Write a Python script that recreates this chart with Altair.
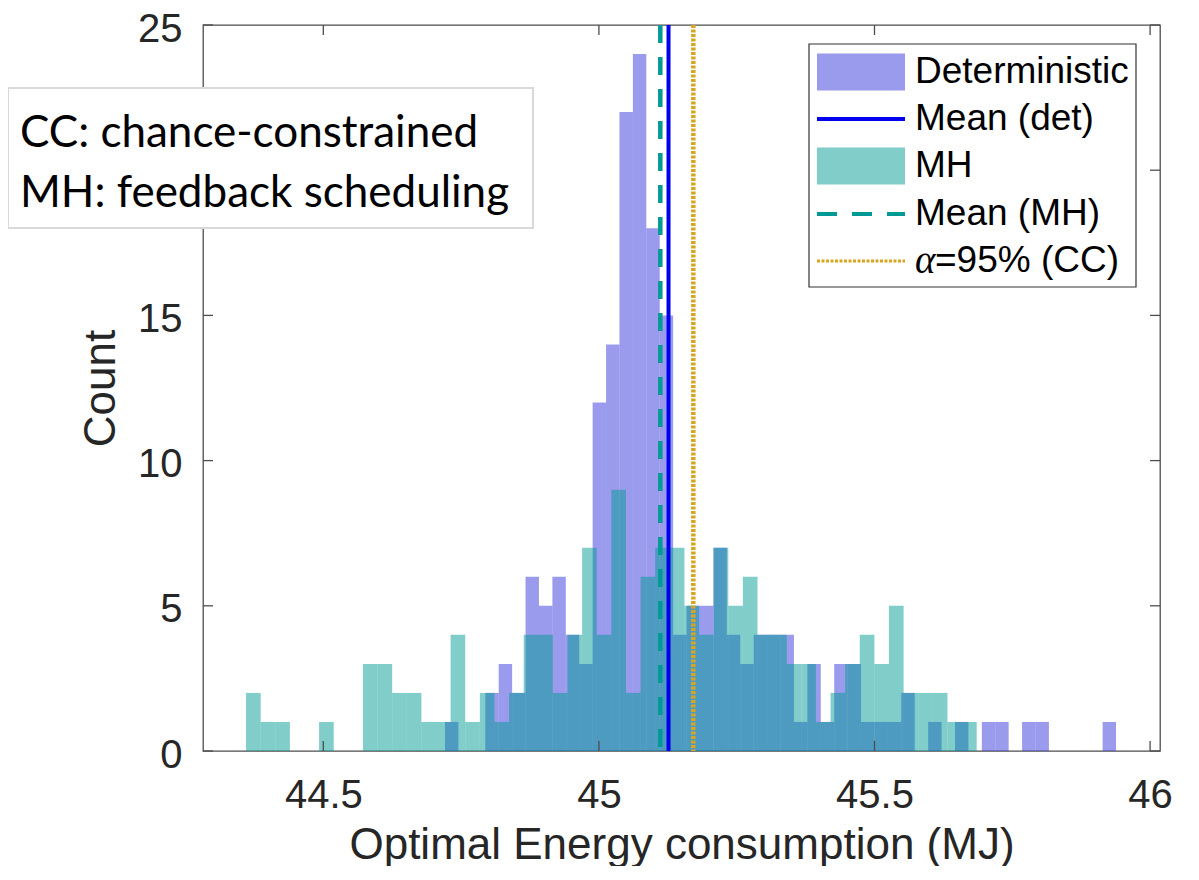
import altair as alt
import numpy as np
import pandas as pd

# ---------------- data ----------------
det_counts = [1, 0, 0, 2, 3, 2, 6, 5, 6, 4,
              3, 12, 14, 22, 24, 18, 15, 4, 5, 5,
              7, 4, 3, 4, 4, 4, 1, 3, 1, 3,
              3, 1, 1, 1, 2, 0, 1, 0, 1, 0,
              1, 1, 0, 1, 1, 0, 0, 0, 0, 1]
mh_counts = [2, 1, 1, 0, 0, 1, 0, 0, 3, 3,
             2, 2, 1, 1, 4, 1, 2, 1, 2, 4,
             4, 2, 4, 7, 4, 9, 2, 6, 7, 7,
             5, 4, 7, 5, 6, 4, 4, 3, 3, 1,
             2, 3, 4, 3, 5, 2, 2, 2, 1, 1]
det_range = [44.7208, 45.9382]   # first / last bin edge (50 bins)
mh_range = [44.3598, 45.6854]
det_mean = 45.1263
mh_mean = 45.1114
cc_alpha95 = 45.1713
x_ticks = [44.5, 45, 45.5, 46]
y_ticks = [0, 5, 10, 15, 20, 25]
x_domain = [44.2817, 46.018]
y_domain = [0, 25]
series_names = ["Deterministic", "MH"]
legend_labels = ["Deterministic", "Mean (det)", "MH", "Mean (MH)", "=95% (CC)"]
note_lines = ["CC: chance-constrained", "MH: feedback scheduling"]

# ---------------- styles ----------------
W, H = 957, 726
TOP = 17
OFF = 8 + TOP          # page y of the plot's top edge
DET_C = "#3737dd"
MH_C = "#019b95"
BLUE = "#0000ee"
TEAL = "#009a96"
GOLD = "#d9a521"
FRAME = "#4d4d4d"
AX_FONT = "Liberation Sans"


def hist_df(counts, rng, name):
    edges = np.linspace(rng[0], rng[1], len(counts) + 1)
    d = pd.DataFrame({"x0": edges[:-1], "x1": edges[1:], "count": counts, "series": name})
    return d[d["count"] > 0]


bars_df = pd.concat([hist_df(det_counts, det_range, series_names[0]),
                     hist_df(mh_counts, mh_range, series_names[1])], ignore_index=True)

xscale = alt.Scale(domain=x_domain, nice=False, zero=False)
yscale = alt.Scale(domain=y_domain, nice=False)

bars = alt.Chart(bars_df).mark_rect(opacity=0.5).encode(
    x=alt.X("x0:Q", scale=xscale,
            axis=alt.Axis(values=x_ticks, format="~g", title="Optimal Energy consumption (MJ)",
                          labelPadding=24, titlePadding=8, labelFlush=False)),
    x2="x1:Q",
    y=alt.Y("count:Q", scale=yscale,
            axis=alt.Axis(values=y_ticks, title="Count", labelPadding=21, titlePadding=14,
                          labelOffset=4,
                          # the "20" label sits under the annotation box in the reference
                          labelExpr="datum.value == 20 ? '' : datum.label")),
    y2=alt.datum(0),
    color=alt.Color("series:N", scale=alt.Scale(domain=series_names, range=[DET_C, MH_C]), legend=None),
)


def vline(val, color, width, dash=None):
    kw = dict(color=color, strokeWidth=width)
    if dash:
        kw["strokeDash"] = dash
    return alt.Chart(pd.DataFrame({"x0": [val]})).mark_rule(**kw).encode(x="x0:Q")


mean_det = vline(det_mean, BLUE, 4)
mean_mh = vline(mh_mean, TEAL, 4.5, [18, 14])
alpha_line = vline(cc_alpha95, GOLD, 4.5, [3, 1.5])

# inward ticks (MATLAB style, on all four sides)
xt = pd.DataFrame({"x0": x_ticks})
yt = pd.DataFrame({"count": y_ticks})
tk = dict(color=FRAME, strokeWidth=1.3)
ticks = [
    alt.Chart(xt).mark_rule(**tk).encode(x="x0:Q", y=alt.value(H), y2=alt.value(H - 10)),
    alt.Chart(xt).mark_rule(**tk).encode(x="x0:Q", y=alt.value(0), y2=alt.value(10)),
    alt.Chart(yt).mark_rule(**tk).encode(y="count:Q", x=alt.value(0), x2=alt.value(10)),
    alt.Chart(yt).mark_rule(**tk).encode(y="count:Q", x=alt.value(W), x2=alt.value(W - 10)),
]

# ---------------- legend (drawn in pixel space) ----------------
one = pd.DataFrame({"a": [0]})
LX0, LX1, LY0, LY1 = 606, 933, 44 - OFF, 287 - OFF
rows = [v - OFF for v in [72, 119, 166, 214, 261]]
SW0, SW1, TX = 614, 702, 712
LFS = 37

leg = [alt.Chart(one).mark_rect(fill="white", stroke="#333333", strokeWidth=1.2).encode(
    x=alt.value(LX0), x2=alt.value(LX1), y=alt.value(LY0), y2=alt.value(LY1))]
leg.append(alt.Chart(one).mark_rect(fill=DET_C, opacity=0.5).encode(
    x=alt.value(SW0), x2=alt.value(SW1), y=alt.value(rows[0] - 18.5), y2=alt.value(rows[0] + 18.5)))
leg.append(alt.Chart(one).mark_rule(color=BLUE, strokeWidth=4).encode(
    x=alt.value(SW0), x2=alt.value(SW1), y=alt.value(rows[1])))
leg.append(alt.Chart(one).mark_rect(fill=MH_C, opacity=0.5).encode(
    x=alt.value(SW0), x2=alt.value(SW1), y=alt.value(rows[2] - 18.5), y2=alt.value(rows[2] + 18.5)))
leg.append(alt.Chart(one).mark_rule(color=TEAL, strokeWidth=4, strokeDash=[20, 15]).encode(
    x=alt.value(SW0), x2=alt.value(SW1), y=alt.value(rows[3])))
leg.append(alt.Chart(one).mark_rule(color=GOLD, strokeWidth=3, strokeDash=[3, 1.5]).encode(
    x=alt.value(SW0), x2=alt.value(SW1), y=alt.value(rows[4])))
for i, lab in enumerate(legend_labels[:4]):
    leg.append(alt.Chart(one).mark_text(text=lab, font=AX_FONT, fontSize=LFS, color="#000000",
                                        align="left", baseline="middle").encode(
        x=alt.value(TX), y=alt.value(rows[i])))
leg.append(alt.Chart(one).mark_text(text="α", font="Liberation Serif", fontStyle="italic",
                                    fontSize=LFS + 2, color="#000000", align="left",
                                    baseline="middle").encode(x=alt.value(TX), y=alt.value(rows[4])))
leg.append(alt.Chart(one).mark_text(text=legend_labels[4], font=AX_FONT, fontSize=LFS, color="#000000",
                                    align="left", baseline="middle").encode(
    x=alt.value(TX + 20), y=alt.value(rows[4])))

# ---------------- annotation box ----------------
note = [alt.Chart(one).mark_rect(fill="white", stroke="#d9d9d9", strokeWidth=2).encode(
    x=alt.value(-195), x2=alt.value(330), y=alt.value(88 - OFF), y2=alt.value(228 - OFF))]
for txt, yb in zip(note_lines, [147, 207]):
    note.append(alt.Chart(one).mark_text(text=txt, font="Lato", fontSize=44, color="#000000",
                                         align="left", baseline="alphabetic").encode(
        x=alt.value(-183), y=alt.value(yb - OFF)))

chart = alt.layer(bars, mean_det, mean_mh, alpha_line, *ticks, *leg, *note).properties(
    width=W, height=H,
    padding={"left": 195, "top": TOP, "right": 30, "bottom": 115},
    autosize=alt.AutoSizeParams(type="none"),
).configure_view(
    stroke=FRAME, strokeWidth=1.3
).configure_axis(
    ticks=False, tickSize=0, domain=False, grid=False,
    labelFont=AX_FONT, labelFontSize=40, labelColor="#262626",
    titleFont=AX_FONT, titleFontSize=44, titleFontWeight="normal", titleColor="#262626",
)

chart.save("out.html", embed_options={"renderer": "svg", "actions": False})
